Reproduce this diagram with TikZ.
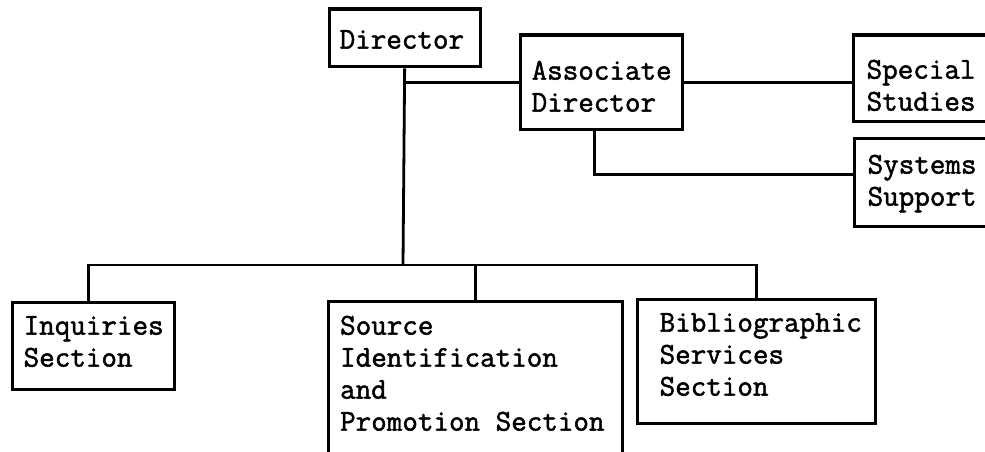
\documentclass[tikz,border=0pt]{standalone}
\usepackage{fontspec}
\newfontfamily\typefont{Latin Modern Mono}[FakeBold=1.6,HyphenChar=None]

\begin{document}
\begin{tikzpicture}[x=1pt,y=-1pt,line join=miter,
  unit/.style={draw,line width=3.3pt,anchor=north west,align=flush left,inner ysep=0pt,
    font=\fontsize{30.2}{32}\selectfont\typefont},
  link/.style={line width=2.8pt}]
  \useasboundingbox (0,0) rectangle (985,452);
  \fill[white] (0,0) rectangle (985,452);
  \clip (0,0) rectangle (985,452);

  % upper level
  \node[unit,inner xsep=10.5pt,text width=130pt,text height=39.5pt,text depth=18pt]
    (dir) at (327.5,7.5) {Director};
  \node[unit,inner xsep=11.5pt,text width=139pt,text height=44.5pt,text depth=49.5pt]
    (assoc) at (518.5,33.5) {Associate\\Director};
  \node[unit,inner xsep=13.5pt,text width=113pt,text height=43.5pt,text depth=42.5pt]
    (spec) at (851.5,33.5) {Special\\Studies};
  \node[unit,inner xsep=13.5pt,text width=113pt,text height=35.5pt,text depth=53pt]
    (sys) at (852.5,136.5) {Systems\\Support};

  % sections
  \node[unit,inner xsep=11.5pt,text width=139pt,text height=32.5pt,text depth=55pt]
    (inq) at (10.5,300.5) {Inquiries\\Section};
  \node[unit,inner xsep=12pt,text width=270pt,text height=33.5pt,text depth=200pt]
    (src) at (326.5,299.5) {Source\\Identification\\and\\Promotion Section};
  \node[unit,inner xsep=22.5pt,text width=193pt,text height=32.5pt,text depth=91.5pt]
    (bib) at (635.5,297.5) {Bibliographic\\Services\\Section};

  % connectors
  \coordinate (bus) at (403,265);
  \draw[link] (dir.south) -- (bus);
  \draw[link] (dir.south |- assoc.west) -- (assoc.west);
  \draw[link] (assoc.east) -- (assoc.east -| spec.west);
  \draw[link] ([xshift=-6.5pt]assoc.south) |- ([yshift=8pt]sys.west);
  \draw[link] ([xshift=-4.5pt]inq.north) |- (bus) -| (bib.north);
  \draw[link] (src.north) -- (src.north |- bus);
\end{tikzpicture}
\end{document}
